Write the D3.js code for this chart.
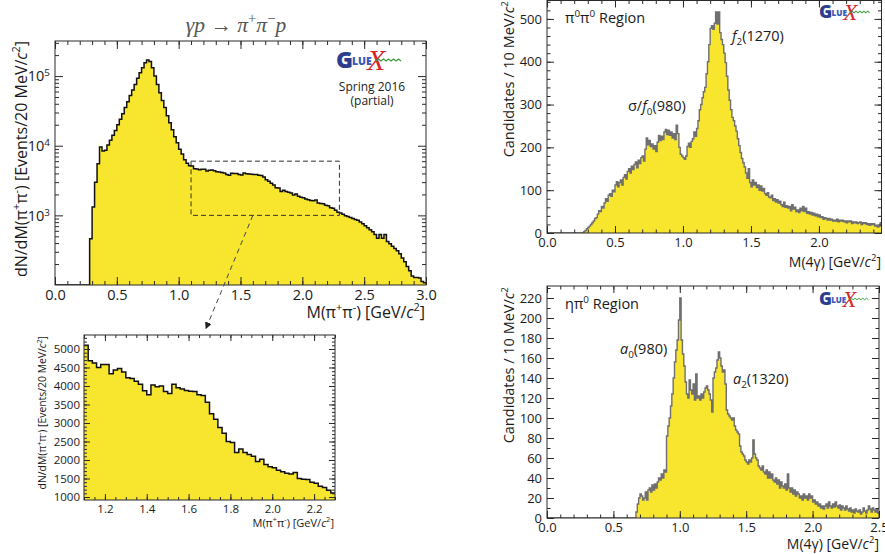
<!DOCTYPE html>
<html>
<head>
<meta charset="utf-8">
<script src="https://cdn.jsdelivr.net/npm/d3@7/dist/d3.min.js"></script>
<style>
  body { margin: 0; background: #fff; }
  svg { display: block; }
</style>
</head>
<body>
<svg id="fig" width="885" height="554"></svg>
<script>
"use strict"

// ---------- data ----------

// gamma p -> pi+ pi- p, 20 MeV bins, 0.0 - 3.0 GeV
const pipiBinWidth = 0.02;
const pipiCounts = [
  0,0,0,0,0,0,0,0,0,0, 0,0,0,0,460,1320,3000,5500,9600,8400,
  8600,10200,12000,14100,16600,20000,24000,28800,35500,42700,
  52500,63000,76000,93000,112000,132000,155000,170000,162000,132000,
  100000,76000,57500,44700,35500,27000,21400,17000,13500,11000,
  8900,7600,6300,5600,5150,
  // 1.10 - 2.30 : the bins shown in the zoomed inset
  5100,4680,4620,4500,4580,4580,4330,4430,4470,4380,
  4220,4200,4130,4050,3870,3760,4030,3980,4000,3850,
  3800,4050,3950,3920,3880,3860,3850,3760,3740,3560,
  3250,3100,2880,2720,2500,2470,2200,2300,2200,2150,
  2100,1960,2020,1880,1820,1790,1720,1680,1640,1620,
  1660,1500,1480,1470,1400,1370,1290,1260,1180,1110,
  // 2.30 - 3.00
  1080,1040,990,960,930,900,870,850,800,760,
  710,665,620,580,530,470,530,470,530,420,
  390,360,335,310,280,245,215,185,160,135,
  128,128,126,112,108
];
const pipiXTicks = [0, 0.5, 1.0, 1.5, 2.0, 2.5, 3.0];
const pipiYTicks = [1e3, 1e4, 1e5];
const insetRange = [1.1, 2.3];
const insetXTicks = [1.2, 1.4, 1.6, 1.8, 2.0, 2.2];
const insetYTicks = [1000, 1500, 2000, 2500, 3000, 3500, 4000, 4500, 5000];

// pi0 pi0 region, 10 MeV bins starting at 0
const fourGammaBinWidth = 0.01;
const pi0pi0Counts = [
  0,0,0,0,0,0,0,0,0,0, 0,0,0,0,0,0,0,0,0,0, 0,0,0,0,0,0,0,
  3,6,10,13,16,20,24,28,34,36,
  44,52,50,62,58,70,80,74,88,92,
  86,100,96,112,120,108,118,124,112,130,
  136,126,144,150,140,156,148,160,166,152,
  170,162,176,180,168,196,222,206,216,202,
  208,196,204,190,212,228,216,226,218,236,
  242,230,240,228,236,222,232,218,252,232,
  200,184,180,176,172,180,202,210,200,214,
  220,236,226,244,262,288,300,316,330,340,
  372,400,440,478,484,476,490,516,488,516,
  468,452,440,420,398,366,334,310,288,270,
  262,250,238,220,204,188,174,164,154,140,
  128,150,118,108,124,112,118,106,112,100,
  110,98,104,92,88,94,84,82,88,76,
  80,72,78,70,74,66,62,72,60,64,
  58,62,52,66,56,60,50,54,48,58,
  52,62,50,58,46,50,44,48,42,46,
  40,44,38,42,36,38,32,36,34,30,
  34,30,32,28,30,28,32,26,30,28,
  30,26,28,24,28,26,28,22,26,24,
  26,22,24,26,20,24,22,24,20,22,
  18,22,20,22,16,18,14,16,24
];
const pi0pi0XTicks = [0, 0.5, 1.0, 1.5, 2.0];
const pi0pi0YTicks = [0, 100, 200, 300, 400, 500];

// eta pi0 region, 10 MeV bins starting at 0
const etapi0Counts = [
  0,0,0,0,0,0,0,0,0,0, 0,0,0,0,0,0,0,0,0,0, 0,0,0,0,0,0,0,0,0,0,
  0,0,0,0,0,0,0,0,0,0, 0,0,0,0,0,0,0,0,0,0, 0,0,0,0,0,0,0,0,0,0,
  0,0,0,0,0,0,0,
  6,14,20,24,22,18,20,26,18,28,
  30,26,33,28,34,30,36,40,38,44,
  40,48,46,82,92,100,112,124,140,156,
  168,178,198,220,178,164,152,136,124,120,
  138,128,124,134,118,144,120,122,118,124,
  120,126,130,132,128,124,118,106,140,146,
  150,158,166,160,152,146,148,134,108,104,
  102,100,98,100,92,88,86,84,72,66,
  64,62,58,56,54,58,56,60,78,64,
  60,58,52,50,48,52,46,44,48,40,
  46,40,44,38,36,40,34,38,30,36,
  32,30,34,28,44,30,26,30,24,28,
  22,26,24,20,22,18,24,20,22,18,
  24,20,22,16,18,14,16,12,14,10,
  12,9,12,14,10,16,12,10,14,11,
  16,12,10,13,8,12,10,8,12,9,
  7,10,6,8,5,9,7,6,8,4,
  6,10,7,5,8,12,9,6,10,8,
  6,9,5
];
const etapi0XTicks = [0, 0.5, 1.0, 1.5, 2.0, 2.5];
const etapi0YTicks = [0, 20, 40, 60, 80, 100, 120, 140, 160, 180, 200, 220];

// ---------- drawing ----------

const FONT = "'Open Sans', 'Noto Sans', sans-serif";
const FILL = "#f8e52e";
const FRAME = "#2a2a2a";
const svg = d3.select("#fig");

function toBins(counts, w) {
  return counts.map((v, i) => ({ x0: i * w, x1: (i + 1) * w, v: v }));
}

function range(a, b, step) {
  const out = [];
  for (let k = 0; a + k * step <= b + 1e-9; k++) out.push(+(a + k * step).toFixed(6));
  return out;
}

// text made of pieces: {t, s: "sup"|"sub", i: italic}
function rich(sel, size, segs) {
  let cur = 0;
  segs.forEach(p => {
    const off = p.s === "sup" ? -0.42 * size : p.s === "sub" ? 0.3 * size : 0;
    sel.append("tspan")
      .attr("dy", off - cur)
      .attr("font-size", p.s ? size * 0.68 : size)
      .attr("font-style", p.i ? "italic" : null)
      .text(p.t);
    cur = off;
  });
  return sel;
}

let clipCount = 0;
function histogram(g, x, y, bins, stroke, sw) {
  const floor = y.domain()[0], [lo, hi] = x.domain();
  const pts = [];
  bins.forEach(b => {
    if (b.x1 <= lo + 1e-9 || b.x0 >= hi - 1e-9) return;
    const v = Math.max(b.v, floor);
    pts.push([Math.max(b.x0, lo), v], [Math.min(b.x1, hi), v]);
  });
  const id = "clip" + (clipCount++);
  g.append("clipPath").attr("id", id).append("rect")
    .attr("x", x.range()[0]).attr("y", y.range()[1])
    .attr("width", x.range()[1] - x.range()[0])
    .attr("height", y.range()[0] - y.range()[1]);
  const h = g.append("g").attr("clip-path", `url(#${id})`);
  h.append("path")
    .attr("d", d3.area().x(d => x(d[0])).y0(y(floor)).y1(d => y(d[1]))(pts))
    .attr("fill", FILL);
  h.append("path")
    .attr("d", d3.line().x(d => x(d[0])).y(d => y(d[1]))(pts))
    .attr("fill", "none").attr("stroke", stroke).attr("stroke-width", sw);
}

function ticks(g, axis, transform, len, labelSize, pad) {
  const s = g.append("g").attr("transform", transform)
    .call(axis.tickSize(-len).tickPadding(pad || 4));
  s.select(".domain").remove();
  s.selectAll(".tick line").attr("stroke", FRAME);
  if (!labelSize) s.selectAll(".tick text").remove();
  else s.selectAll(".tick text").attr("font-family", FONT)
    .attr("font-size", labelSize).attr("fill", "#1a1a1a");
  return s;
}

function frame(g, x, y, o) {
  const [l, r] = x.range(), [b, t] = y.range();
  ticks(g, d3.axisBottom(x).tickValues(o.xMinor), `translate(0,${b})`, o.minor);
  ticks(g, d3.axisTop(x).tickValues(o.xMinor), `translate(0,${t})`, o.minor);
  ticks(g, d3.axisLeft(y).tickValues(o.yMinor), `translate(${l},0)`, o.minor);
  ticks(g, d3.axisRight(y).tickValues(o.yMinor), `translate(${r},0)`, o.minor);
  ticks(g, d3.axisTop(x).tickValues(o.xMajor), `translate(0,${t})`, o.major);
  ticks(g, d3.axisRight(y).tickValues(o.yMajor), `translate(${r},0)`, o.major);
  const xa = ticks(g, d3.axisBottom(x).tickValues(o.xMajor).tickFormat(o.xFormat),
    `translate(0,${b})`, o.major, o.size, o.xPad);
  const ya = ticks(g, d3.axisLeft(y).tickValues(o.yMajor).tickFormat(o.yFormat),
    `translate(${l},0)`, o.major, o.size, o.yPad);
  g.append("rect").attr("x", l).attr("y", t).attr("width", r - l).attr("height", b - t)
    .attr("fill", "none").attr("stroke", FRAME).attr("stroke-width", 1);
  return { xa, ya };
}

function logo(g, x0, y0, s) {
  const L = g.append("g").attr("transform", `translate(${x0},${y0}) scale(${s})`);
  L.append("text").attr("x", 0).attr("y", 8).attr("font-family", FONT).attr("font-weight", 800)
    .attr("font-size", 23).attr("fill", "#2c3d8f").text("G");
  L.append("text").attr("x", 16).attr("y", 5).attr("font-family", FONT).attr("font-weight", 800)
    .attr("font-size", 10.5).attr("fill", "#3a58b8").text("LUE");
  L.append("text").attr("x", 31).attr("y", 10).attr("font-family", "'Liberation Serif', serif")
    .attr("font-style", "italic").attr("font-size", 30).attr("fill", "#d7262a").text("X");
  L.append("path").attr("d", "M40,1 l2.5,-2 l2.5,2 l2.5,-2 l2.5,2 l2.5,-2 l2.5,2 l2.5,-2 l2.5,2 l2.5,-2 l2.5,2")
    .attr("fill", "none").attr("stroke", "#3b9b3e").attr("stroke-width", 1.3);
}

const fmt1 = d3.format(".1f");

// ----- panel A : log histogram -----
{
  const g = svg.append("g");
  const x = d3.scaleLinear().domain([0, 3]).range([55, 426]);
  const y = d3.scaleLog().domain([100, 3.19e5]).range([285, 41]);
  const yMinor = [];
  [100, 1e3, 1e4, 1e5].forEach(d => { for (let k = 2; k <= 9; k++) if (k * d < 3.19e5) yMinor.push(k * d); });
  histogram(g, x, y, toBins(pipiCounts, pipiBinWidth), "#111", 1.5);
  const fr = frame(g, x, y, {
    xMajor: pipiXTicks, xMinor: range(0, 3, 0.1), yMajor: pipiYTicks, yMinor: yMinor,
    major: 8, minor: 4, size: 14.5, xPad: 5, yPad: 5, xFormat: fmt1, yFormat: d => d
  });
  fr.ya.selectAll(".tick text").each(function (d) {
    const t = d3.select(this).text("");
    t.append("tspan").text("10");
    t.append("tspan").attr("dy", "-0.5em").attr("font-size", "68%").text(Math.round(Math.log10(d)));
  });

  rich(g.append("text").attr("x", 236).attr("y", 32).attr("text-anchor", "middle")
    .attr("font-family", "'Liberation Serif', 'DejaVu Serif', serif").attr("fill", "#555"), 21.5,
    [{ t: "γp → π", i: true }, { t: "+", s: "sup" }, { t: "π", i: true }, { t: "−", s: "sup" }, { t: "p", i: true }]);

  rich(g.append("text").attr("x", 425).attr("y", 318).attr("text-anchor", "end")
    .attr("font-family", FONT).attr("fill", "#1a1a1a"), 16,
    [{ t: "M(π" }, { t: "+", s: "sup" }, { t: "π" }, { t: "-", s: "sup" }, { t: ") [GeV/" },
     { t: "c", i: true }, { t: "2", s: "sup" }, { t: "]" }]);

  rich(g.append("text").attr("transform", "translate(27,41) rotate(-90)").attr("text-anchor", "end")
    .attr("font-family", FONT).attr("fill", "#1a1a1a"), 16,
    [{ t: "dN/dM(π" }, { t: "+", s: "sup" }, { t: "π" }, { t: "-", s: "sup" }, { t: ") [Events/20 MeV/" },
     { t: "c", i: true }, { t: "2", s: "sup" }, { t: "]" }]);

  logo(g, 336, 60, 1);
  g.append("text").attr("x", 372).attr("y", 91).attr("text-anchor", "middle")
    .attr("font-family", FONT).attr("font-size", 12).attr("fill", "#222").text("Spring 2016");
  g.append("text").attr("x", 372).attr("y", 105).attr("text-anchor", "middle")
    .attr("font-family", FONT).attr("font-size", 12).attr("fill", "#222").text("(partial)");

  // zoom box and arrow to the inset
  g.append("rect").attr("x", x(insetRange[0])).attr("y", y(6000))
    .attr("width", x(insetRange[1]) - x(insetRange[0])).attr("height", y(1000) - y(6000))
    .attr("fill", "none").attr("stroke", "#333").attr("stroke-width", 1).attr("stroke-dasharray", "5,3");
  svg.append("defs").append("marker").attr("id", "arr").attr("viewBox", "0 0 10 10")
    .attr("refX", 5).attr("refY", 5).attr("markerWidth", 7).attr("markerHeight", 7)
    .attr("orient", "auto").append("path").attr("d", "M0,0 L10,5 L0,10 z").attr("fill", "#222");
  g.append("line").attr("x1", x(1.6)).attr("y1", y(1000)).attr("x2", 207).attr("y2", 326)
    .attr("stroke", "#444").attr("stroke-width", 1).attr("stroke-dasharray", "5,4")
    .attr("marker-end", "url(#arr)");
}

// ----- panel B : inset, linear -----
{
  const g = svg.append("g");
  const x = d3.scaleLinear().domain(insetRange).range([84, 335]);
  const y = d3.scaleLinear().domain([919, 5378]).range([500, 335]);
  histogram(g, x, y, toBins(pipiCounts, pipiBinWidth), "#111", 1.5);
  frame(g, x, y, {
    xMajor: insetXTicks, xMinor: range(1.1, 2.3, 0.05), yMajor: insetYTicks, yMinor: range(1000, 5300, 100),
    major: 6, minor: 3, size: 11.5, xPad: 5, yPad: 4, xFormat: fmt1, yFormat: d3.format("d")
  });
  rich(g.append("text").attr("x", 334).attr("y", 527).attr("text-anchor", "end")
    .attr("font-family", FONT).attr("fill", "#1a1a1a"), 11,
    [{ t: "M(π" }, { t: "+", s: "sup" }, { t: "π" }, { t: "-", s: "sup" }, { t: ") [GeV/" },
     { t: "c", i: true }, { t: "2", s: "sup" }, { t: "]" }]);
  rich(g.append("text").attr("transform", "translate(46,336) rotate(-90)").attr("text-anchor", "end")
    .attr("font-family", FONT).attr("fill", "#1a1a1a"), 10.4,
    [{ t: "dN/dM(π" }, { t: "+", s: "sup" }, { t: "π" }, { t: "-", s: "sup" }, { t: ") [Events/20 MeV/" },
     { t: "c", i: true }, { t: "2", s: "sup" }, { t: "]" }]);
}

// ----- panel C : pi0 pi0 -----
{
  const g = svg.append("g");
  const x = d3.scaleLinear().domain([0, 2.46]).range([547, 881.5]);
  const y = d3.scaleLinear().domain([0, 543]).range([233, 0.5]);
  histogram(g, x, y, toBins(pi0pi0Counts, fourGammaBinWidth), "#6f6f6f", 1.4);
  frame(g, x, y, {
    xMajor: pi0pi0XTicks, xMinor: range(0, 2.4, 0.1), yMajor: pi0pi0YTicks, yMinor: range(0, 540, 20),
    major: 7, minor: 3.5, size: 13, xPad: 5, yPad: 5, xFormat: fmt1, yFormat: d3.format("d")
  });
  rich(g.append("text").attr("x", 881).attr("y", 267).attr("text-anchor", "end")
    .attr("font-family", FONT).attr("fill", "#1a1a1a"), 14,
    [{ t: "M(4γ) [GeV/" }, { t: "c", i: true }, { t: "2", s: "sup" }, { t: "]" }]);
  rich(g.append("text").attr("transform", "translate(514,1) rotate(-90)").attr("text-anchor", "end")
    .attr("font-family", FONT).attr("fill", "#1a1a1a"), 14.5,
    [{ t: "Candidates / 10 MeV/" }, { t: "c", i: true }, { t: "2", s: "sup" }]);
  rich(g.append("text").attr("x", 565).attr("y", 23).attr("font-family", FONT).attr("fill", "#1a1a1a"), 14.5,
    [{ t: "π" }, { t: "0", s: "sup" }, { t: "π" }, { t: "0", s: "sup" }, { t: " Region" }]);
  rich(g.append("text").attr("x", 628).attr("y", 111).attr("font-family", FONT).attr("fill", "#1a1a1a"), 14.5,
    [{ t: "σ/" }, { t: "f", i: true }, { t: "0", s: "sub" }, { t: "(980)" }]);
  rich(g.append("text").attr("x", 732).attr("y", 41).attr("font-family", FONT).attr("fill", "#1a1a1a"), 14.5,
    [{ t: "f", i: true }, { t: "2", s: "sub" }, { t: "(1270)" }]);
  logo(g, 819, 12, 0.78);
}

// ----- panel D : eta pi0 -----
{
  const g = svg.append("g");
  const x = d3.scaleLinear().domain([0, 2.5]).range([547, 879]);
  const y = d3.scaleLinear().domain([0, 232]).range([518, 286]);
  histogram(g, x, y, toBins(etapi0Counts, fourGammaBinWidth), "#6f6f6f", 1.4);
  frame(g, x, y, {
    xMajor: etapi0XTicks, xMinor: range(0, 2.5, 0.1), yMajor: etapi0YTicks, yMinor: range(0, 230, 10),
    major: 7, minor: 3.5, size: 13, xPad: 5, yPad: 5, xFormat: fmt1, yFormat: d3.format("d")
  });
  rich(g.append("text").attr("x", 879).attr("y", 549).attr("text-anchor", "end")
    .attr("font-family", FONT).attr("fill", "#1a1a1a"), 14,
    [{ t: "M(4γ) [GeV/" }, { t: "c", i: true }, { t: "2", s: "sup" }, { t: "]" }]);
  rich(g.append("text").attr("transform", "translate(514,287) rotate(-90)").attr("text-anchor", "end")
    .attr("font-family", FONT).attr("fill", "#1a1a1a"), 14.5,
    [{ t: "Candidates / 10 MeV/" }, { t: "c", i: true }, { t: "2", s: "sup" }]);
  rich(g.append("text").attr("x", 565).attr("y", 309).attr("font-family", FONT).attr("fill", "#1a1a1a"), 14.5,
    [{ t: "ηπ" }, { t: "0", s: "sup" }, { t: " Region" }]);
  rich(g.append("text").attr("x", 620).attr("y", 354).attr("font-family", FONT).attr("fill", "#1a1a1a"), 14.5,
    [{ t: "a", i: true }, { t: "0", s: "sub" }, { t: "(980)" }]);
  rich(g.append("text").attr("x", 733).attr("y", 384).attr("font-family", FONT).attr("fill", "#1a1a1a"), 14.5,
    [{ t: "a", i: true }, { t: "2", s: "sub" }, { t: "(1320)" }]);
  logo(g, 819, 299, 0.76);
}
</script>
</body>
</html>
